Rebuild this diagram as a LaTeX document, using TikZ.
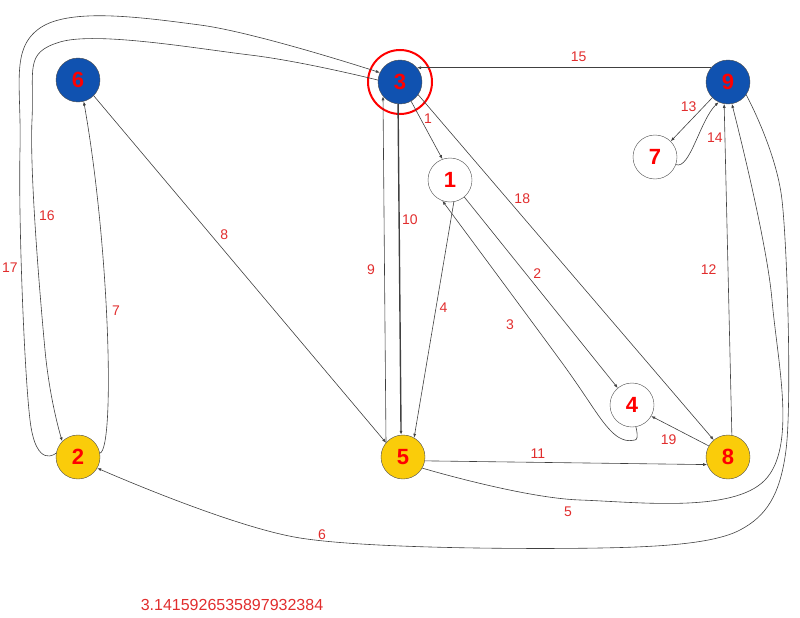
\documentclass[tikz,border=0pt]{standalone}
\usepackage{fontspec}
\setmainfont{Liberation Sans}
\usetikzlibrary{arrows.meta}
\definecolor{nblue}{RGB}{16,82,176}
\definecolor{nyel}{RGB}{250,204,10}
\definecolor{lred}{RGB}{225,45,45}
\tikzset{
 vtx/.style={circle,draw=black!70,minimum size=44pt,inner sep=0pt,font=\bfseries\fontsize{22}{22}\selectfont,text=red},
 bl/.style={vtx,fill=nblue},
 ye/.style={vtx,fill=nyel},
 wh/.style={vtx,fill=white},
 ed/.style={draw=black!75,line width=0.6pt,-{Latex[length=4pt,width=3pt]}},
 lb/.style={text=lred,font=\fontsize{14}{14}\selectfont}
}
\begin{document}
\begin{tikzpicture}[x=1pt,y=-1pt]
\useasboundingbox (0,0) rectangle (800,618);
\node[bl] (n6) at (78,80) {6};
\node[bl] (n3) at (400,82) {3};
\node[bl] (n9) at (728,82) {9};
\node[wh] (n1) at (450,180) {1};
\node[wh] (n7) at (655,157) {7};
\node[wh] (n4) at (632,405) {4};
\node[ye] (n2) at (78,457) {2};
\node[ye] (n5) at (403,457) {5};
\node[ye] (n8) at (728,457) {8};
\draw[red,line width=2pt] (n3) circle (32pt);
% edges
\draw[ed] (n9.140) -- (n3.40) node[lb,pos=.45,above=2pt]{15};
\draw[ed] (n3.-60) -- (n1.110) node[lb,pos=.3,right]{1};
\draw[ed,line width=1.4pt] (n3.-95) -- (n5.95) node[lb,pos=.35,right=-1pt]{10};
\draw[ed] (n5.140) -- (n3.220) node[lb,pos=.5,left=6pt]{9};
\draw[ed] (n3.-35) -- (n8.130) node[lb,pos=.3,right=4pt]{18};
\draw[ed] (n1.-50) -- (n4.130) node[lb,pos=.4,right=4pt]{2};
\draw[ed] plot[smooth,tension=.6] coordinates {(n4.-80) (635,440) (610,430) (560,360) (n1.-110)};
\node[lb] (l3) at (510,325) {3};
\draw[ed] (n1.-80) -- (n5.60) node[lb,pos=.45,right]{4};
\draw[ed] (n6.-45) -- (n5.140) node[lb,pos=.4,right=6pt]{8};
\draw[ed] (n2.10) .. controls (115,450) and (110,250) .. (n6.-75) node[lb,pos=.55,right=2pt]{7};
\draw[ed] plot[smooth,tension=.6] coordinates {(n3.175) (250,55) (60,42) (32,120) (45,350) (n2.135)};
\node[lb] (l16) at (47,216) {16};
\draw[ed] plot[smooth,tension=.6] coordinates {(n2.170) (30,420) (20,150) (40,28) (200,25) (n3.155)};
\node[lb] (l17) at (10,268) {17};
\draw[ed] (n5.-10) -- (n8.-160) node[lb,pos=.4,above]{11};
\draw[ed] plot[smooth,tension=.6] coordinates {(n5.-30) (580,500) (765,480) (772,300) (n9.-80)};
\node[lb] (l5) at (568,512) {5};
\draw[ed] plot[smooth,tension=.5] coordinates {(n9.-35) (782,200) (786,450) (740,530) (600,548) (300,538) (n2.-30)};
\node[lb] (l6) at (322,535) {6};
\draw[ed] (n8.80) -- (n9.-100) node[lb,pos=.5,left=8pt]{12};
\draw[ed] (n9.-135) -- (n7.45) node[lb,pos=.2,left=4pt]{13};
\draw[ed] (n7.-20) .. controls (690,170) and (700,120) .. (n9.-115) node[lb,pos=.55,right=6pt]{14};
\draw[ed] (n8.150) -- (n4.-30) node[lb,pos=.5,below left=0pt]{19};
\node[lb,font=\fontsize{16}{16}\selectfont] (pi) at (232,605) {3.1415926535897932384};
\end{tikzpicture}
\end{document}
